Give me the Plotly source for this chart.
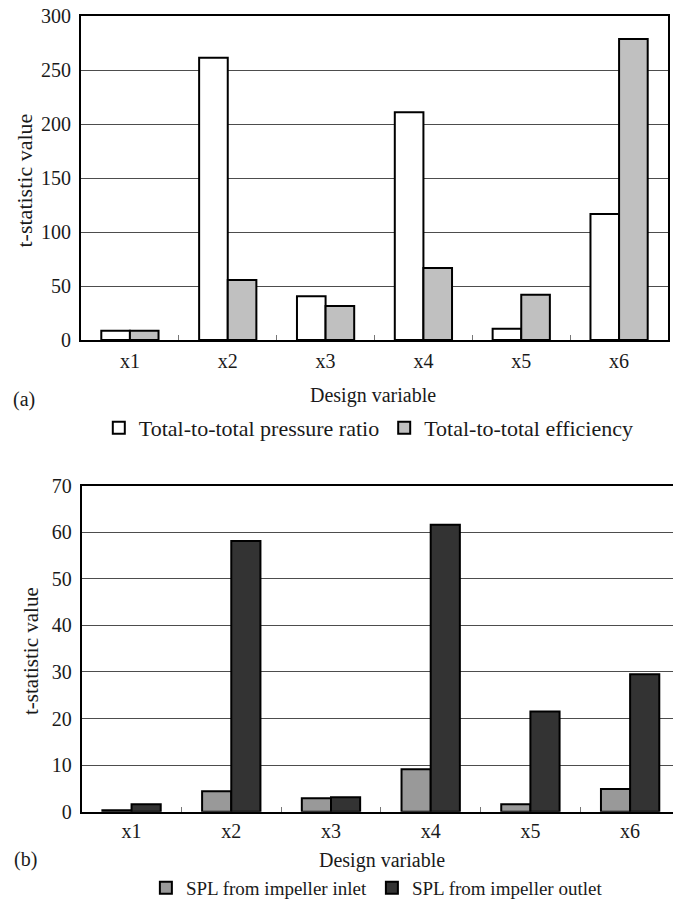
import plotly.graph_objects as go

categories = ["x1", "x2", "x3", "x4", "x5", "x6"]

# Panel (a)
pressure_ratio = [8.6, 261.4, 40.4, 210.8, 10.5, 116.7]
efficiency = [8.6, 55.6, 31.5, 66.7, 42.0, 278.7]

# Panel (b)
spl_inlet = [0.3, 4.4, 2.9, 9.1, 1.6, 4.9]
spl_outlet = [1.6, 58.1, 3.1, 61.6, 21.5, 29.5]

a_ticks = [0, 50, 100, 150, 200, 250, 300]
b_ticks = [0, 10, 20, 30, 40, 50, 60, 70]

FONT = "Liberation Serif"
W, H = 673, 902

fig = go.Figure()

line = dict(color="black", width=2)
fig.add_trace(go.Bar(x=categories, y=pressure_ratio, name="Total-to-total pressure ratio",
                     marker=dict(color="white", line=line), xaxis="x", yaxis="y", legend="legend"))
fig.add_trace(go.Bar(x=categories, y=efficiency, name="Total-to-total efficiency",
                     marker=dict(color="#c0c0c0", line=line), xaxis="x", yaxis="y", legend="legend"))
fig.add_trace(go.Bar(x=categories, y=spl_inlet, name="SPL from impeller inlet",
                     marker=dict(color="#999999", line=line), xaxis="x2", yaxis="y2", legend="legend2"))
fig.add_trace(go.Bar(x=categories, y=spl_outlet, name="SPL from impeller outlet",
                     marker=dict(color="#333333", line=line), xaxis="x2", yaxis="y2", legend="legend2"))

xcommon = dict(type="category", showline=True, linecolor="black", linewidth=2, mirror=True,
               ticks="inside", tickson="boundaries", ticklen=5, tickcolor="#777", tickwidth=1,
               showgrid=False, automargin=False,
               tickfont=dict(family=FONT, size=20, color="#1a1a1a"))
ycommon = dict(showline=True, linecolor="black", linewidth=2, ticks="", showgrid=True,
               gridcolor="#4d4d4d", gridwidth=1.2, zeroline=False, automargin=False,
               tickfont=dict(family=FONT, size=20, color="#1a1a1a"), ticklabelstandoff=4)

fig.update_layout(
    width=W, height=H, margin=dict(l=0, r=0, t=0, b=0, autoexpand=False),
    paper_bgcolor="white", plot_bgcolor="white",
    barmode="group", bargap=0.415, bargroupgap=0,
    xaxis=dict(xcommon, domain=[81 / W, 668 / W], anchor="y", range=[-0.5, 5.5], ticklabelstandoff=2),
    yaxis=dict(ycommon, domain=[1 - 340 / H, 1 - 16 / H], anchor="x", range=[0, 300],
               tickvals=a_ticks, mirror=True),
    xaxis2=dict(xcommon, domain=[81.7 / W, 1.0], anchor="y2", range=[-0.5, 5.43], ticklabelstandoff=0),
    yaxis2=dict(ycommon, domain=[1 - 811.7 / H, 1 - 485.7 / H], anchor="x2", range=[0, 70],
                tickvals=b_ticks),
    legend=dict(orientation="h", xref="container", yref="container",
                x=0.548, xanchor="center", y=1 - 428 / H, yanchor="middle",
                font=dict(family=FONT, size=22, color="#1a1a1a"), bgcolor="rgba(0,0,0,0)"),
    legend2=dict(orientation="h", xref="container", yref="container",
                 x=0.56, xanchor="center", y=1 - 888 / H, yanchor="middle",
                 font=dict(family=FONT, size=19, color="#1a1a1a"), bgcolor="rgba(0,0,0,0)"),
    showlegend=True,
)

def ann(text, x, y, size=20, angle=0):
    fig.add_annotation(text=text, x=x / W, y=1 - y / H, xref="paper", yref="paper",
                       xanchor="center", yanchor="middle", showarrow=False, textangle=angle,
                       font=dict(family=FONT, size=size, color="#1a1a1a"))

ann("(a)", 24, 399)
ann("Design variable", 373, 395)
ann("t-statistic value", 23.5, 181, size=22, angle=-90)
ann("(b)", 25, 859)
ann("Design variable", 382, 860)
ann("t-statistic value", 31, 651, size=21, angle=-90)

fig.write_html("out.html")
